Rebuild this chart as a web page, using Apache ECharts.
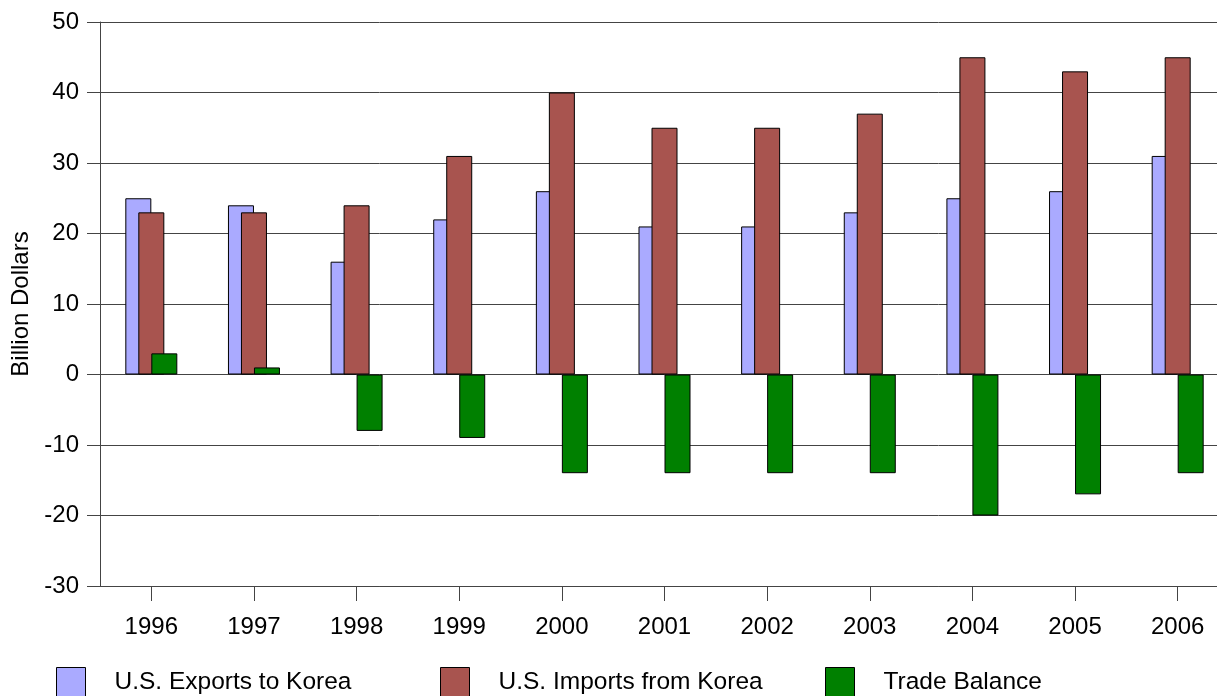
<!DOCTYPE html>
<html>
<head>
<meta charset="utf-8">
<script src="https://cdn.jsdelivr.net/npm/echarts@6/dist/echarts.min.js"></script>
<style>
html,body{margin:0;padding:0;background:#fff;}
#chart{width:1217px;height:696px;}
</style>
</head>
<body>
<div id="chart"></div>
<script>
const years = ['1996','1997','1998','1999','2000','2001','2002','2003','2004','2005','2006'];
const exportsToKorea = [25, 24, 16, 22, 26, 21, 21, 23, 25, 26, 31];
const importsFromKorea = [23, 23, 24, 31, 40, 35, 35, 37, 45, 43, 45];
const tradeBalance = [3, 1, -8, -9, -14, -14, -14, -14, -20, -17, -14];
const seriesNames = ['U.S. Exports to Korea', 'U.S. Imports from Korea', 'Trade Balance'];
const colors = ['#AAAAFF', '#A8544F', '#008000'];

const FONT = '"Liberation Sans", Arial, sans-serif';
const chart = echarts.init(document.getElementById('chart'), null, {renderer: 'canvas'});

function legendAt(name, left) {
  return {
    data: [name],
    left: left,
    top: 667,
    padding: 0,
    itemWidth: 29,
    itemHeight: 29,
    icon: 'rect',
    selectedMode: false,
    itemStyle: {borderColor: '#000', borderWidth: 1},
    textStyle: {fontFamily: FONT, fontSize: 24.5, color: '#000', padding: [0, 0, 0, 24]}
  };
}

const option = {
  animation: false,
  backgroundColor: '#fff',
  color: colors,
  grid: {left: 100, width: 1129, top: 22, bottom: 110, containLabel: false, outerBoundsMode: 'none'},
  legend: [
    legendAt(seriesNames[0], 56),
    legendAt(seriesNames[1], 440),
    legendAt(seriesNames[2], 825)
  ],
  xAxis: {
    type: 'category',
    data: years,
    axisLine: {onZero: false, lineStyle: {color: '#444', width: 1}},
    axisTick: {show: true, alignWithLabel: true, length: 15, lineStyle: {color: '#444'}},
    axisLabel: {fontFamily: FONT, fontSize: 24, color: '#000', margin: 29},
    splitLine: {show: false}
  },
  yAxis: {
    type: 'value',
    min: -30,
    max: 50,
    interval: 10,
    name: 'Billion Dollars',
    nameLocation: 'middle',
    nameGap: 66,
    nameTextStyle: {fontFamily: FONT, fontSize: 24, color: '#000'},
    axisLine: {show: true, lineStyle: {color: '#444', width: 1}},
    axisTick: {show: true, length: 13, lineStyle: {color: '#444'}},
    axisLabel: {fontFamily: FONT, fontSize: 24, color: '#000', margin: 21},
    splitLine: {show: true, lineStyle: {color: '#444', width: 1}}
  },
  series: [
    {name: seriesNames[0], type: 'bar', data: exportsToKorea, barWidth: 26, barGap: '-50%',
     itemStyle: {color: colors[0], borderColor: '#000', borderWidth: 1}},
    {name: seriesNames[1], type: 'bar', data: importsFromKorea, barWidth: 26, barGap: '-50%',
     itemStyle: {color: colors[1], borderColor: '#000', borderWidth: 1}},
    {name: seriesNames[2], type: 'bar', data: tradeBalance, barWidth: 26, barGap: '-50%',
     itemStyle: {color: colors[2], borderColor: '#000', borderWidth: 1}}
  ]
};
chart.setOption(option);
</script>
</body>
</html>
